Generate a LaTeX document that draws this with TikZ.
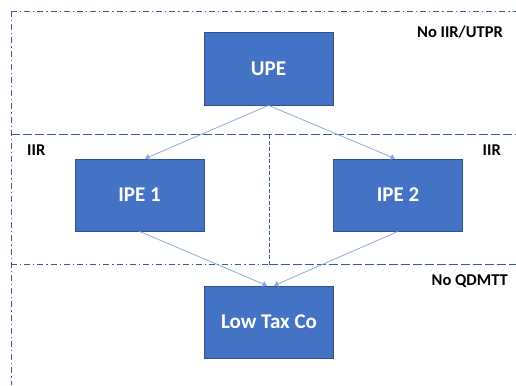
\documentclass[tikz,border=0pt]{standalone}
\usepackage{fontspec}
\setmainfont{Carlito}
\usetikzlibrary{arrows.meta}
\definecolor{boxfill}{HTML}{4472C4}
\definecolor{boxedge}{HTML}{2F528F}
\definecolor{linkc}{HTML}{8FAADC}
\definecolor{framec}{HTML}{3A5A94}
\begin{document}
\begin{tikzpicture}[x=1pt,y=-1pt,
  entity/.style={draw=boxedge,fill=boxfill,line width=0.8pt,minimum width=129pt,minimum height=72pt,inner sep=0pt,text=white,font=\bfseries\fontsize{21}{24}\selectfont},
  zonelabel/.style={font=\bfseries\fontsize{16.5}{19}\selectfont,inner sep=0pt},
  link/.style={draw=linkc,line width=0.8pt,-{Triangle[width=6pt,length=4.5pt]}},
  dashdotline/.style={draw=framec,line width=0.9pt,dash pattern=on 6pt off 3pt on 1.2pt off 3pt},
  longdash/.style={draw=framec,line width=0.9pt,dash pattern=on 9pt off 3pt}]
\useasboundingbox (0,0) rectangle (516,385);
\fill[white] (0,0) rectangle (516,385);
% frame lines
\coordinate (tl) at (11,11);
\coordinate (tr) at (516,11);
\coordinate (bl) at (11,385);
\coordinate (m1l) at (11,134.5);
\coordinate (m1r) at (516,134.5);
\coordinate (m2l) at (11,264);
\coordinate (m2m) at (269,264);
\coordinate (m2r) at (516,264);
\coordinate (dvt) at (269,134.5);
\draw[dashdotline] (tl) -- (tr);
\draw[dashdotline] (tl) -- (bl);
\draw[longdash] (m1l) -- (m1r);
\draw[dashdotline] (m2l) -- (m2m);
\draw[longdash] (m2m) -- (m2r);
\draw[longdash,dash pattern=on 4pt off 2pt] (dvt) -- (m2m);
% entities
\node[entity,minimum height=73pt] (upe) at (268.5,68.5) {UPE};
\node[entity] (ipe1) at (139.5,195) {IPE 1};
\node[entity] (ipe2) at (398,195) {IPE 2};
\node[entity] (low) at (269,322) {Low Tax Co};
% links
\draw[link] (upe.south) -- (ipe1.north -| 145,0);
\draw[link] (upe.south) -- (ipe2.north -| 395,0);
\draw[link] (ipe1.south) -- (low.north -| 267,0);
\draw[link] (ipe2.south) -- (low.north -| 274,0);
% labels
\node[zonelabel,anchor=east] (l1) at (503,32) {No IIR/UTPR};
\node[zonelabel,anchor=west] (l2) at (27,150) {IIR};
\node[zonelabel,anchor=east] (l3) at (501,150) {IIR};
\node[zonelabel,anchor=east] (l4) at (508,281) {No QDMTT};
\end{tikzpicture}
\end{document}
